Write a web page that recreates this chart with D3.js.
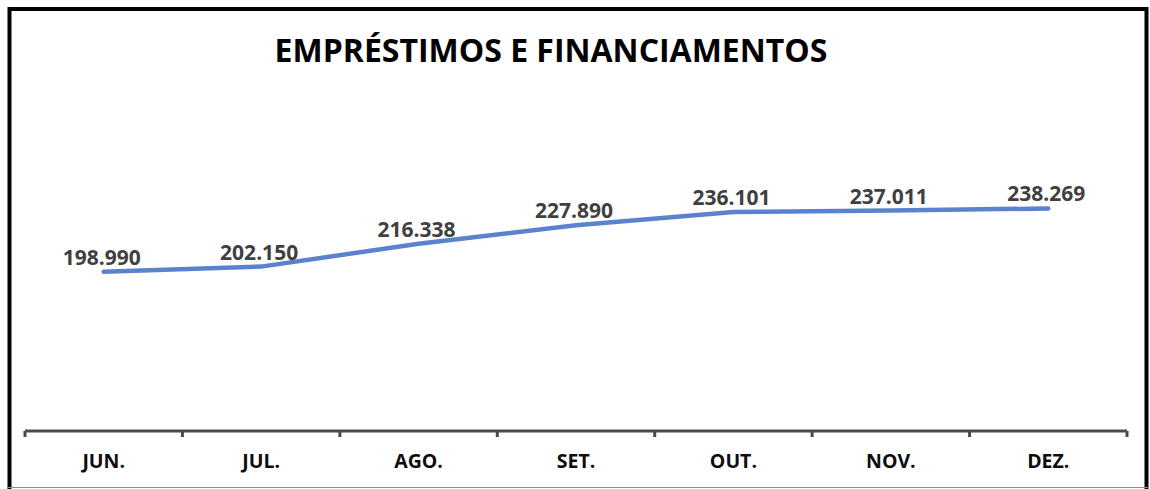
<!DOCTYPE html>
<html>
<head>
<meta charset="utf-8">
<script src="https://cdn.jsdelivr.net/npm/d3@7"></script>
<style>
  body { margin: 0; background: #fff; }
  svg { display: block; }
</style>
</head>
<body>
<script>
var width = 1150, height = 489;

// chart data
var months = ["JUN.", "JUL.", "AGO.", "SET.", "OUT.", "NOV.", "DEZ."];
var values = [198990, 202150, 216338, 227890, 236101, 237011, 238269];
var yDomain = [100000, 250000];
var title = "EMPRÉSTIMOS E FINANCIAMENTOS";

var svg = d3.select('body').append('svg')
  .attr('width', width).attr('height', height);

// frame (black on left, top and right; thin grey at the bottom)
svg.append('path')
  .attr('d', 'M9.5,' + height + ' V9 H1146.5 V' + height)
  .attr('fill', 'none').attr('stroke', '#000').attr('stroke-width', 4);
svg.append('line')
  .attr('x1', 8).attr('x2', 1148).attr('y1', 487.5).attr('y2', 487.5)
  .attr('stroke', '#8c8c8c').attr('stroke-width', 1);

// title
svg.append('text')
  .attr('x', 551).attr('y', 62)
  .attr('text-anchor', 'middle')
  .attr('font-family', 'Open Sans')
  .attr('font-weight', 700)
  .attr('font-size', 32)
  .attr('fill', '#000')
  .text(title);

// scales
var x = d3.scaleBand().domain(months).range([25, 1127]);
var y = d3.scaleLinear().domain(yDomain).range([431, 189.6]);

// x axis
var axis = svg.append('g')
  .attr('transform', 'translate(0,431)');

axis.append('line')
  .attr('x1', 25).attr('x2', 1127)
  .attr('stroke', '#4a4a4a').attr('stroke-width', 3);

var edges = months.map(function(m) { return x(m); }).concat([x.range()[1]]);
axis.selectAll('line.tk')
  .data(edges)
  .join('line')
  .attr('class', 'tk')
  .attr('x1', function(d) { return d; })
  .attr('x2', function(d) { return d; })
  .attr('y1', 0).attr('y2', 6)
  .attr('stroke', '#4a4a4a').attr('stroke-width', 3);

axis.selectAll('text.cat')
  .data(months)
  .join('text')
  .attr('class', 'cat')
  .attr('x', function(d) { return x(d) + x.bandwidth() / 2; })
  .attr('y', 37)
  .attr('text-anchor', 'middle')
  .attr('font-family', 'Open Sans')
  .attr('font-weight', 700)
  .attr('font-size', 19.5)
  .attr('fill', '#0d0d0d')
  .text(function(d) { return d; });

// line
var pts = months.map(function(m, i) {
  return { m: m, v: values[i] };
});
var line = d3.line()
  .x(function(d) { return x(d.m) + x.bandwidth() / 2; })
  .y(function(d) { return y(d.v); });

svg.append('path')
  .datum(pts)
  .attr('d', line)
  .attr('fill', 'none')
  .attr('stroke', '#5b82cf')
  .attr('stroke-width', 4.5)
  .attr('stroke-linecap', 'round')
  .attr('stroke-linejoin', 'round');

// data labels
var ptBr = d3.formatLocale({ decimal: ',', thousands: '.', grouping: [3], currency: ['R$', ''] });
var fmt = ptBr.format(',d');

svg.selectAll('text.val')
  .data(pts)
  .join('text')
  .attr('class', 'val')
  .attr('x', function(d) { return x(d.m) + x.bandwidth() / 2 - 2; })
  .attr('y', function(d) { return y(d.v) - 7; })
  .attr('text-anchor', 'middle')
  .attr('font-family', 'Open Sans')
  .attr('font-weight', 700)
  .attr('font-size', 21)
  .attr('fill', '#404040')
  .text(function(d) { return fmt(d.v); });
</script>
</body>
</html>
